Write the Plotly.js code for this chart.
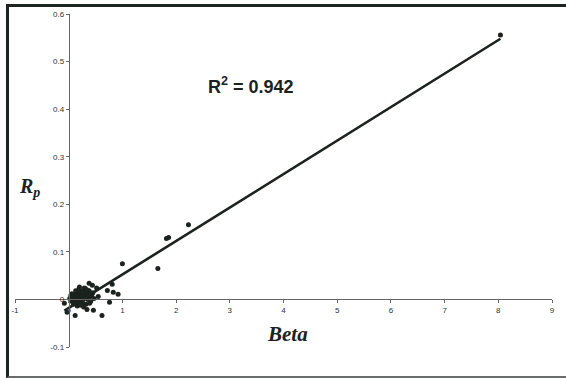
<!DOCTYPE html>
<html>
<head>
<meta charset="utf-8">
<script src="https://cdn.plot.ly/plotly-3.0.1.min.js"></script>
<style>
  html, body { margin: 0; padding: 0; background: #ffffff; }
  #wrap { position: relative; width: 566px; height: 378px; overflow: hidden; }
  #chart { width: 566px; height: 378px; }
  #frame { position: absolute; left: 6px; top: 4px; width: 600px; height: 369px;
           border-left: 3px solid #1e2420; border-top: 3px solid #1e2420; border-bottom: 2px solid #6a6e6a;
           pointer-events: none; }
</style>
</head>
<body>
<div id="wrap">
  <div id="chart"></div>
  <div id="frame"></div>
</div>
<script>
// Beta values (x) and portfolio returns Rp (y)
const betaValues = [
  0.38, 0.44, 0.31, 0.81, 0.72, 0.83, 0.92, 0.76, -0.08, -0.03, 0.12, 0.34, 0.46, 0.62, 0.26, 0.52, 0.55,
  0.02, 0.05, 0.08, 0.10, 0.12, 0.14, 0.15, 0.17, 0.18, 0.20, 0.21, 0.22, 0.24, 0.25, 0.27, 0.28, 0.30,
  0.31, 0.32, 0.33, 0.35, 0.36, 0.38, 0.40, 0.41, 0.43, 0.45, 0.47, 0.06, 0.09, 0.13, 0.19, 0.23, 0.29,
  0.16, 0.11, 0.26, 0.34, 0.39, 0.04, 0.20, 0.28,
  1.00, 1.66, 1.82, 1.86, 2.23, 8.04
];
const rpValues = [
  0.034, 0.030, 0.023, 0.032, 0.019, 0.015, 0.011, -0.006, -0.008, -0.027, -0.034, -0.021, -0.023, -0.034, -0.008, 0.024, 0.006,
  0.002, -0.004, 0.006, 0.010, -0.002, 0.004, 0.014, 0.008, -0.006, 0.002, 0.012, 0.018, 0.006, -0.003, 0.010, 0.001, 0.015,
  0.005, -0.010, 0.008, 0.012, 0.000, 0.018, 0.006, -0.004, 0.010, 0.014, 0.002, 0.012, -0.010, 0.018, 0.022, -0.012, 0.024,
  -0.014, 0.000, 0.016, 0.020, -0.008, 0.008, 0.026, -0.016,
  0.075, 0.065, 0.128, 0.130, 0.157, 0.556
];
// Linear trend line
const trendSlope = 0.0704;
const trendIntercept = -0.018;
const rSquaredText = "0.942";

const xTicks = [-1, 0, 1, 2, 3, 4, 5, 6, 7, 8, 9];
const yTicks = [-0.1, 0, 0.1, 0.2, 0.3, 0.4, 0.5, 0.6];
const xRange = [-1, 9];
const yRange = [-0.1, 0.6];

const xMin = Math.min(...betaValues);
const xMax = Math.max(...betaValues);
const trendX = [xMin, xMax];
const trendY = trendX.map(v => trendIntercept + trendSlope * v);

const ink = '#1c221e';

const traces = [
  {
    x: betaValues, y: rpValues, type: 'scatter', mode: 'markers',
    marker: { symbol: 'circle', size: 5, color: ink },
    hoverinfo: 'x+y', showlegend: false
  },
  {
    x: trendX, y: trendY, type: 'scatter', mode: 'lines',
    line: { color: ink, width: 2.6 },
    hoverinfo: 'skip', showlegend: false
  }
];

const tickFont = { family: 'Liberation Sans, Arial, sans-serif', size: 8, color: '#333' };

const layout = {
  width: 566, height: 378,
  margin: { l: 15, r: 14, t: 14, b: 31 },
  paper_bgcolor: '#ffffff', plot_bgcolor: '#ffffff',
  showlegend: false,
  xaxis: {
    range: xRange, tickvals: xTicks, ticktext: xTicks.map(String),
    anchor: 'free', position: (0 - yRange[0]) / (yRange[1] - yRange[0]),
    showgrid: false, zeroline: false, showline: true, linecolor: '#666', linewidth: 1,
    ticks: 'outside', ticklen: 3, tickcolor: '#666', tickfont: tickFont
  },
  yaxis: {
    range: yRange, tickvals: yTicks, ticktext: yTicks.map(String),
    anchor: 'free', position: (0 - xRange[0]) / (xRange[1] - xRange[0]),
    showgrid: false, zeroline: false, showline: true, linecolor: '#666', linewidth: 1,
    ticks: 'outside', ticklen: 3, tickcolor: '#666', tickfont: tickFont
  },
  annotations: [
    {
      text: 'R<sup>2</sup> = ' + rSquaredText, xref: 'paper', yref: 'paper',
      x: 0.44, y: 0.785, xanchor: 'center', yanchor: 'middle', showarrow: false,
      font: { family: 'Liberation Sans, Arial, sans-serif', size: 18, color: ink, weight: 'bold' }
    },
    {
      text: '<b><i>Beta</i></b>', xref: 'paper', yref: 'paper',
      x: 0.507, y: 0.04, xanchor: 'center', yanchor: 'middle', showarrow: false,
      font: { family: 'Liberation Serif, Times New Roman, serif', size: 21, color: ink }
    },
    {
      text: '<b><i>R<sub>p</sub></i></b>', xref: 'paper', yref: 'paper',
      x: 0.003, y: 0.48, xanchor: 'left', yanchor: 'middle', showarrow: false,
      font: { family: 'Liberation Serif, Times New Roman, serif', size: 20, color: ink }
    }
  ]
};

Plotly.newPlot('chart', traces, layout, { displayModeBar: false, staticPlot: true });
</script>
</body>
</html>
